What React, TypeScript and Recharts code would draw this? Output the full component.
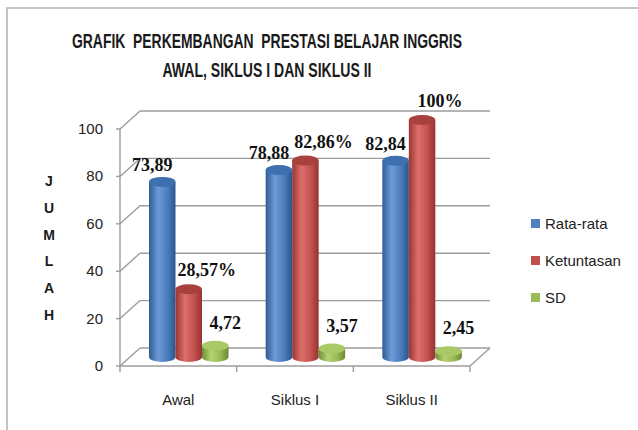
import { BarChart, Bar, XAxis, YAxis, CartesianGrid, LabelList } from "recharts";

const categories = ["Awal", "Siklus I", "Siklus II"];
const rataRata = [73.89, 78.88, 82.84];
const ketuntasan = [28.57, 82.86, 100];
const sd = [4.72, 3.57, 2.45];
const yTicks = [0, 20, 40, 60, 80, 100];

const chartData = categories.map((category, i) => ({
  category,
  rata: rataRata[i],
  ketuntasan: ketuntasan[i],
  sd: sd[i],
}));

const fmt = (v: number) => (Number.isInteger(v) ? String(v) : v.toFixed(2).replace(".", ","));

// series look: colour, gradient stops, label offsets
const series = [
  {
    key: "rata", name: "Rata-rata", color: "#4f81bd", cap: "#3e6fae",
    stops: ["#2f5c97", "#6d9bd6", "#4a7cbc", "#2b5590"], dx: -10, dy: 11, pct: false,
  },
  {
    key: "ketuntasan", name: "Ketuntasan", color: "#c0504d", cap: "#a8403d",
    stops: ["#9a3532", "#dc6f6b", "#c4524f", "#953230"], dx: 18, dy: 13, pct: true,
  },
  {
    key: "sd", name: "SD", color: "#9bbb59", cap: "#a9c866",
    stops: ["#6f8f33", "#b5d373", "#98b956", "#6a8a30"], dx: 10, dy: 17, pct: false,
  },
];

const W = 638;
const H = 430;
const MARGIN = { top: 120, right: 158, bottom: 33, left: 70 };
const Y_AXIS_W = 60;
const X_AXIS_H = 40;
const PLOT_TOP = MARGIN.top;
const PLOT_BOTTOM = H - MARGIN.bottom - X_AXIS_H;
const DX = 10; // 3d depth shift
const DY = 9;
const GRID = "#9c9c9c";
const SANS = "'Liberation Sans', Arial, sans-serif";

function Cylinder(props: any) {
  const { x, y, width, height, s, index } = props;
  if (!width || height == null) return null;
  const rx = width / 2;
  const ry = 5;
  const bottom = y + height;
  const id = `grad-${s.key}-${index}`;
  return (
    <g>
      <defs>
        <linearGradient id={id} x1="0" y1="0" x2="1" y2="0">
          <stop offset="0%" stopColor={s.stops[0]} />
          <stop offset="35%" stopColor={s.stops[1]} />
          <stop offset="70%" stopColor={s.stops[2]} />
          <stop offset="100%" stopColor={s.stops[3]} />
        </linearGradient>
      </defs>
      <path
        d={`M${x},${y} L${x},${bottom} A${rx},${ry} 0 0 0 ${x + width},${bottom} L${x + width},${y} Z`}
        fill={`url(#${id})`}
      />
      <ellipse cx={x + rx} cy={y} rx={rx} ry={ry} fill={s.cap} />
    </g>
  );
}

function BarValue(props: any) {
  const { x, y, width, value, s } = props;
  return (
    <text
      x={x + width / 2 + s.dx}
      y={y - s.dy}
      textAnchor="middle"
      fontFamily="'Liberation Serif', 'Times New Roman', serif"
      fontWeight="bold"
      fontSize={18}
      fill="#111"
    >
      {fmt(value) + (s.pct ? "%" : "")}
    </text>
  );
}

function GridLine(props: any) {
  const { x1, x2, y1 } = props;
  const fx = x1 - DX;
  const fy = y1 + DY;
  const by = y1 - DY;
  const isFloor = Math.abs(y1 - PLOT_BOTTOM) < 1;
  const band = (x2 - x1) / categories.length;
  return (
    <g stroke={GRID} strokeWidth={1.4} fill="none">
      <line x1={fx} y1={fy} x2={x1 + DX} y2={by} />
      <line x1={x1 + DX} y1={by} x2={x2 + DX} y2={by} />
      <line x1={fx - 4} y1={fy} x2={fx} y2={fy} />
      {isFloor && (
        <g>
          <line x1={fx} y1={fy} x2={x2 - DX} y2={fy} />
          <line x1={x2 - DX} y1={fy} x2={x2 + DX} y2={by} />
          <line x1={fx} y1={fy} x2={fx} y2={PLOT_TOP + DY} />
          {categories.concat([""]).map((_, i) => (
            <line key={i} x1={fx + i * band} y1={fy} x2={fx + i * band} y2={fy + 6} />
          ))}
        </g>
      )}
    </g>
  );
}

function YTick(props: any) {
  const { y, payload } = props;
  return (
    <text x={103} y={y + DY + 5} textAnchor="end" fontFamily={SANS} fontSize={15} fill="#222">
      {payload.value}
    </text>
  );
}

function XTick(props: any) {
  const { x, payload } = props;
  return (
    <text x={x - DX} y={PLOT_BOTTOM + 48} textAnchor="middle" fontFamily={SANS} fontSize={15} fill="#222">
      {payload.value}
    </text>
  );
}

function Jumlah() {
  const letters = "JUMLAH".split("");
  return (
    <g>
      {letters.map((ch, i) => (
        <text
          key={i}
          x={49}
          y={186 + i * 26.8}
          textAnchor="middle"
          fontFamily={SANS}
          fontWeight="bold"
          fontSize={14}
          fill="#1a1a1a"
        >
          {ch}
        </text>
      ))}
    </g>
  );
}

export default function App() {
  return (
    <div style={{ position: "absolute", left: 0, top: 0, width: W, height: H, overflow: "hidden", background: "#fff" }}>
      <div
        style={{
          position: "absolute", left: 6, top: 7, width: 660, height: 460,
          border: "2px solid #c4c4c4", boxSizing: "border-box",
        }}
      />
      <div style={{ position: "absolute", left: 0, top: 0 }}>
        <BarChart width={W} height={H} data={chartData} margin={MARGIN} barGap={0} barSize={26.5}>
          <CartesianGrid vertical={false} horizontal={(p: any) => <GridLine {...p} />} />
          <XAxis dataKey="category" axisLine={false} tickLine={false} height={X_AXIS_H} tick={<XTick />} interval={0} />
          <YAxis
            domain={[0, 100]}
            ticks={yTicks}
            width={Y_AXIS_W}
            axisLine={false}
            tickLine={false}
            tick={<YTick />}
            label={{ content: () => <Jumlah /> }}
          />
          {series.map((s) => (
            <Bar
              key={s.key}
              dataKey={s.key}
              name={s.name}
              fill={s.color}
              isAnimationActive={false}
              shape={(p: any) => <Cylinder {...p} s={s} />}
            >
              <LabelList dataKey={s.key} content={(p: any) => <BarValue {...p} s={s} />} />
            </Bar>
          ))}
        </BarChart>
      </div>
      <svg width={W} height={90} style={{ position: "absolute", left: 0, top: 0 }}>
        <text
          x={267} y={48} textAnchor="middle" fontFamily={SANS} fontWeight="bold" fontSize={21}
          textLength={390} lengthAdjust="spacingAndGlyphs" fill="#1a1a1a" style={{ whiteSpace: "pre" }}
        >
          {"GRAFIK  PERKEMBANGAN  PRESTASI BELAJAR INGGRIS"}
        </text>
        <text
          x={267} y={77} textAnchor="middle" fontFamily={SANS} fontWeight="bold" fontSize={21}
          textLength={209} lengthAdjust="spacingAndGlyphs" fill="#1a1a1a"
        >
          AWAL, SIKLUS I DAN SIKLUS II
        </text>
      </svg>
      <div style={{ position: "absolute", left: 531, top: 205, fontFamily: SANS, fontSize: 15, color: "#222" }}>
        {series.map((s) => (
          <div key={s.key} style={{ height: 37, display: "flex", alignItems: "center" }}>
            <span style={{ width: 9, height: 9, background: s.color, marginRight: 5, display: "inline-block" }} />
            <span>{s.name}</span>
          </div>
        ))}
      </div>
    </div>
  );
}
